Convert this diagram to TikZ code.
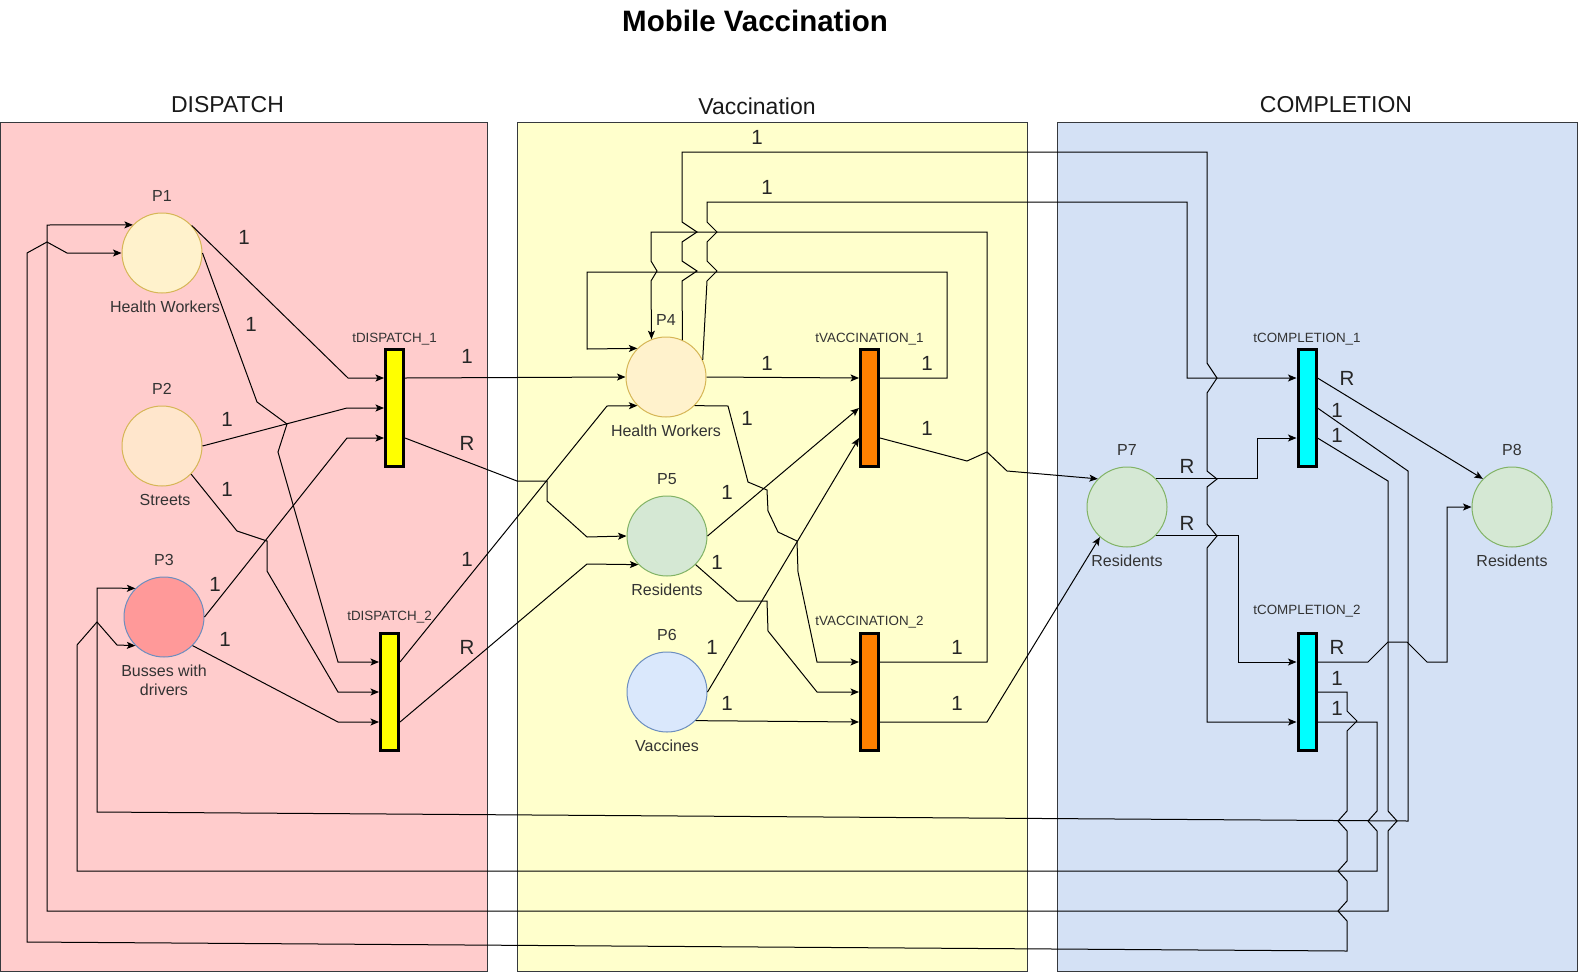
\documentclass[tikz,border=0pt]{standalone}
\usepackage{fontspec}
\setmainfont{Liberation Sans}
\usetikzlibrary{positioning,arrows.meta}

\definecolor{dispfill}{HTML}{FFCCCC}
\definecolor{vaccfill}{HTML}{FFFFCC}
\definecolor{complfill}{HTML}{D4E1F5}
\definecolor{laneline}{HTML}{36393D}
\definecolor{hwfill}{HTML}{FFF2CC}
\definecolor{hwline}{HTML}{D6B656}
\definecolor{stfill}{HTML}{FFE6CC}
\definecolor{busfill}{HTML}{FF9999}
\definecolor{blueline}{HTML}{6C8EBF}
\definecolor{resfill}{HTML}{D5E8D4}
\definecolor{resline}{HTML}{82B366}
\definecolor{vacfill}{HTML}{DAE8FC}
\definecolor{txt}{HTML}{333333}
\definecolor{yellowtr}{HTML}{FFFF00}
\definecolor{orangetr}{HTML}{FF8000}
\definecolor{cyantr}{HTML}{00FFFF}

\tikzset{
  place/.style={circle, line width=1pt, minimum size=80pt, inner sep=0pt},
  trans/.style={rectangle, draw=black, line width=3pt, minimum width=18pt, minimum height=117pt, inner sep=0pt},
  arc/.style={line width=1pt, -{Stealth[length=8.5pt,width=7pt,inset=2pt]}},
  wt/.style={font=\fontsize{20.5}{23}\selectfont, text=black!85, inner sep=0pt},
  plbl/.style={font=\fontsize{16}{19}\selectfont, text=txt, inner sep=0pt, align=center},
  tlbl/.style={font=\fontsize{13.4}{15}\selectfont, text=txt, inner sep=0pt},
  lane/.style={draw=laneline, line width=1pt},
  lanetitle/.style={font=\fontsize{23}{26}\selectfont, text=black!90}
}

\begin{document}
\begin{tikzpicture}[x=1pt, y=-1pt]
\useasboundingbox (0,0) rectangle (1578,972);

% Define the lanes
\draw[lane, fill=dispfill] (0,122) rectangle (487,971);
\draw[lane, fill=vaccfill] (517,122) rectangle (1027,971);
\draw[lane, fill=complfill] (1057,122) rectangle (1577,971);

\node[font=\fontsize{29.5}{32}\selectfont\bfseries] (title) at (755,21) {Mobile Vaccination};
\node[lanetitle] (dispT) at (227.5,105) {DISPATCH};
\node[lanetitle] (vaccT) at (757,106) {Vaccination};
\node[lanetitle] (complT) at (1336,105) {COMPLETION};

% Draw the places
\node[place, fill=hwfill, draw=hwline, label={[plbl, label distance=10.5pt]above:P1}, label={[plbl, label distance=7.5pt, xshift=3pt]below:Health Workers}] (P1) at (162,253) {};
\node[place, fill=stfill, draw=hwline, label={[plbl, label distance=10.5pt]above:P2}, label={[plbl, label distance=7.5pt, xshift=3pt]below:Streets}] (P2) at (162,446) {};
\node[place, fill=busfill, draw=blueline, label={[plbl, label distance=10.5pt]above:P3}, label={[plbl, label distance=7.5pt]below:Busses with\\drivers}] (P3) at (164,617) {};
\node[place, fill=hwfill, draw=hwline, label={[plbl, label distance=10.5pt]above:P4}, label={[plbl, label distance=7.5pt]below:Health Workers}] (P4) at (666,377) {};
\node[place, fill=resfill, draw=resline, label={[plbl, label distance=10.5pt]above:P5}, label={[plbl, label distance=7.5pt]below:Residents}] (P5) at (667,536) {};
\node[place, fill=vacfill, draw=blueline, label={[plbl, label distance=10.5pt]above:P6}, label={[plbl, label distance=7.5pt]below:Vaccines}] (P6) at (667,692) {};
\node[place, fill=resfill, draw=resline, label={[plbl, label distance=10.5pt]above:P7}, label={[plbl, label distance=7.5pt]below:Residents}] (P7) at (1127,507) {};
\node[place, fill=resfill, draw=resline, label={[plbl, label distance=10.5pt]above:P8}, label={[plbl, label distance=7.5pt]below:Residents}] (P8) at (1512,507) {};

% Draw the transitions
\node[trans, fill=yellowtr, label={[tlbl, label distance=2.8pt]above:tDISPATCH\_1}] (tD1) at (394.5,408) {};
\node[trans, fill=yellowtr, label={[tlbl, label distance=8.8pt]above:tDISPATCH\_2}] (tD2) at (389.5,692) {};
\node[trans, fill=orangetr, label={[tlbl, label distance=2.8pt]above:tVACCINATION\_1}] (tV1) at (869.5,408) {};
\node[trans, fill=orangetr, label={[tlbl, label distance=3.8pt]above:tVACCINATION\_2}] (tV2) at (869.5,692) {};
\node[trans, fill=cyantr, label={[tlbl, label distance=2.8pt]above:tCOMPLETION\_1}] (tC1) at (1307,408) {};
\node[trans, fill=cyantr, label={[tlbl, label distance=14.8pt]above:tCOMPLETION\_2}] (tC2) at (1307,692) {};

% Dispatch arcs
\draw[arc] (P1.43) -- (348,378) -- ([yshift=30pt]tD1.west);
\draw[arc] (P1.east) -- (257,402) -- (287,424) -- (278,452) -- (338,662) -- ([yshift=30pt]tD2.west);
\draw[arc] (P2.east) -- (347,408) -- (tD1.west);
\draw[arc] (P2.-44) -- (237,531) -- (267,541) -- (267,571) -- (338,692) -- (tD2.west);
\draw[arc] (P3.east) -- (347,438) -- ([yshift=-30pt]tD1.west);
\draw[arc] (P3.-45) -- (338,722) -- ([yshift=-30pt]tD2.west);
\draw[arc] ([yshift=30pt]tD1.east) -- (P4.west);
\draw[arc] ([yshift=-30pt]tD1.east) -- (517,481) -- (547,481) -- (547,501) -- (587,537) -- (P5.west);
\draw[arc] ([yshift=30pt]tD2.east) -- (607,406) -- (P4.225);
\draw[arc] ([yshift=-30pt]tD2.east) -- (587,564) -- (P5.225);

% Vaccination arcs
\draw[arc] (P4.east) -- ([yshift=30pt]tV1.west);
\draw[arc] (P4.-45) -- (728,406) -- (748,482) -- (767,490) -- (768,511) -- (778,532) -- (797,541) -- (798,572) -- (817,662) -- ([yshift=30pt]tV2.west);
\draw[arc] (P5.east) -- (tV1.west);
\draw[arc] (P6.east) -- ([yshift=-30pt]tV1.west);
\draw[arc] (P5.-45) -- (737,601) -- (767,601) -- (768,631) -- (817,692) -- (tV2.west);
\draw[arc] (P6.-45) -- ([yshift=-30pt]tV2.west);
\draw[arc] ([yshift=-30pt]tV1.east) -- (967,461) -- (987,452) -- (1007,471) -- (P7.136);
\draw[arc] ([yshift=30pt]tV1.east) -- (947,378) -- (947,272) -- (587,272) -- (587,349) -- (P4.135);
\draw[arc] ([yshift=30pt]tV2.east) -- (987,662) -- (987,232) -- (651,232) -- (651,261) -- (657,271) -- (651,281) -- (P4.111);
\draw[arc] ([yshift=-30pt]tV2.east) -- (987,722) -- (P7.228);

% Completion arcs
\draw[arc] (P4.66) -- (682,281) -- (697,271) -- (682,261) -- (682,242) -- (697,232) -- (682,222) -- (682,152) -- (1207,152) -- (1207,363) -- (1217,378) -- (1207,393) -- (1207,471) -- (1217,479) -- (1207,487) -- (1207,524) -- (1217,536) -- (1207,548) -- (1207,722) -- ([yshift=-30pt]tC2.west);
\draw[arc] (P4.25) -- (707,281) -- (717,271) -- (707,261) -- (707,242) -- (717,232) -- (707,222) -- (707,202) -- (1187,202) -- (1187,378) -- ([yshift=30pt]tC1.west);
\draw[arc] (P7.45) -| (1257,438) -- ([yshift=-30pt]tC1.west);
\draw[arc] (P7.-45) -| (1238,662) -- ([yshift=30pt]tC2.west);
\draw[arc] ([yshift=30pt]tC1.east) -- (P8.136);
\draw[arc] ([yshift=30pt]tC2.east) -- (1368,662) -- (1388,642) -- (1407,642) -- (1427,662) -- (1447,662) |- (P8.west);

% Return arcs
\draw[arc] (tC1.east) -- (1408,471) -- (1408,821) -- (97,812) -- (97,588) -- (P3.135);
\draw[arc] ([yshift=-30pt]tC1.east) -- (1388,481) -- (1388,811) -- (1397,821) -- (1388,831) -- (1388,911) -- (47,911) -- (47,225) -- (P1.136);
\draw[arc] (tC2.east) -- (1347,692) -- (1347,711) -- (1357,721) -- (1347,731) -- (1347,811) -- (1338,821) -- (1347,831) -- (1347,861) -- (1338,871) -- (1347,881) -- (1347,901) -- (1338,911) -- (1347,921) -- (1347,951) -- (27,942) -- (27,253) -- (47,242) -- (67,253) -- (P1.west);
\draw[arc] ([yshift=-30pt]tC2.east) -- (1377,722) -- (1377,811) -- (1368,821) -- (1377,831) -- (1377,871) -- (77,871) -- (77,645) -- (97,622) -- (117,645) -- (P3.225);

% Arc weights
\foreach \px/\py/\w [count=\i] in {244/237/1, 251/324/1, 227/419/1, 227/489/1, 215/584/1, 225/639/1, 467/356/1, 467/443/R, 467/559/1, 467/647/R,
  757/137/1, 767/187/1, 767/363/1, 927/363/1, 747/418/1, 927/428/1, 727/492/1, 717/562/1, 712/647/1, 727/703/1, 957/647/1, 957/703/1,
  1187/466/R, 1187/523/R, 1347/378/R, 1337/410/1, 1337/435/1, 1337/647/R, 1337/678/1, 1337/708/1}
  \node[wt] (w\i) at (\px,\py) {\w};
\end{tikzpicture}
\end{document}
